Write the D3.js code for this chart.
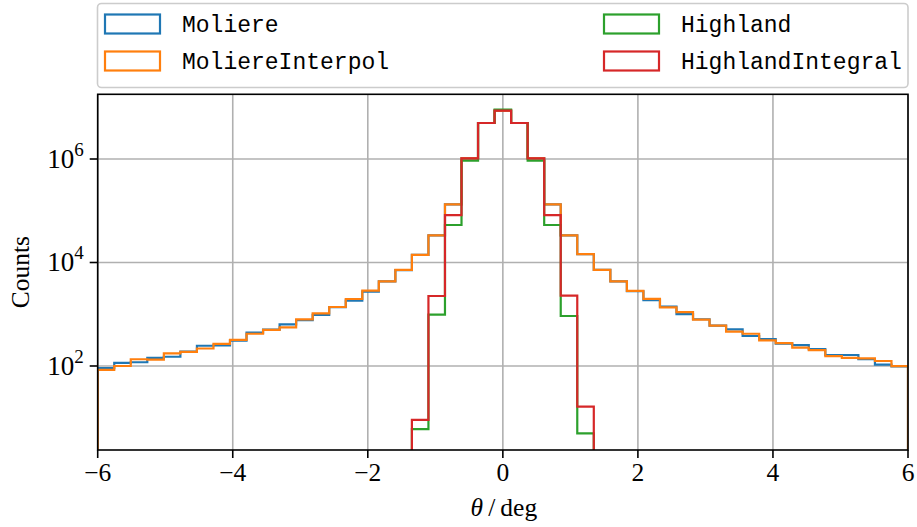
<!DOCTYPE html>
<html>
<head>
<meta charset="utf-8">
<script src="https://cdn.jsdelivr.net/npm/d3@7"></script>
<style>
  html, body { margin: 0; padding: 0; background: #ffffff; }
  svg { display: block; }
</style>
</head>
<body>
<svg id="chart" width="917" height="527"></svg>
<script>
// Histogram of scattering angle, 49 equal bins over [-6, 6] deg
const binRange = [-6, 6];
const binCount = 49;

// Counts per bin (left to right)
const moliere = [
  91, 115, 118, 143, 151, 190, 246, 250, 310, 440,
  505, 635, 768, 972, 1370, 1830, 2730, 4300, 7100, 14000,
  33500, 133000, 1030000, 4960000, 8600000, 4960000, 1030000, 133000, 33500, 14500,
  7200, 4300, 2780, 1870, 1400, 1005, 800, 601, 508, 380,
  330, 270, 253, 211, 163, 163, 136, 106, 98
];
const moliereInterpol = [
  84, 100, 135, 133, 175, 187, 218, 267, 320, 420,
  497, 560, 798, 1042, 1380, 1972, 2850, 4336, 7200, 14000,
  33500, 133000, 1030000, 4960000, 8600000, 4960000, 1030000, 133000, 33500, 14500,
  7200, 4300, 2830, 1985, 1361, 1097, 790, 601, 460, 420,
  314, 276, 226, 202, 155, 143, 140, 125, 99
];
const highland = [
  0, 0, 0, 0, 0, 0, 0, 0, 0, 0,
  0, 0, 0, 0, 0, 0, 0, 0, 0, 6.0,
  980, 53000, 930000, 4960000, 9000000, 4960000, 930000, 53000, 925, 5.0,
  0, 0, 0, 0, 0, 0, 0, 0, 0, 0,
  0, 0, 0, 0, 0, 0, 0, 0, 0
];
const highlandIntegral = [
  0, 0, 0, 0, 0, 0, 0, 0, 0, 0,
  0, 0, 0, 0, 0, 0, 0, 0, 0, 9.1,
  2250, 82000, 1030000, 4960000, 8600000, 4960000, 1030000, 82000, 2300, 16.4,
  0, 0, 0, 0, 0, 0, 0, 0, 0, 0,
  0, 0, 0, 0, 0, 0, 0, 0, 0
];

const seriesNames = ["Moliere", "MoliereInterpol", "Highland", "HighlandIntegral"];
const seriesValues = [moliere, moliereInterpol, highland, highlandIntegral];
const seriesColors = ["#1f77b4", "#ff7f0e", "#2ca02c", "#d62728"];

const xTicks = [-6, -4, -2, 0, 2, 4, 6];
const yTicks = [1e2, 1e4, 1e6];
const yTickExponents = ["2", "4", "6"];

// ---- layout ----
const svg = d3.select("#chart");
const plot = { left: 97.7, right: 908, top: 94.3, bottom: 450 };
const serif = "'Liberation Serif', 'DejaVu Serif', serif";
const mono = "'Liberation Mono', 'DejaVu Sans Mono', monospace";

const x = d3.scaleLinear().domain(binRange).range([plot.left, plot.right]);
const y = d3.scaleLog().domain([2.38, 1.78e7]).range([plot.bottom, plot.top]);

const edges = d3.range(binCount + 1).map(i => binRange[0] + (binRange[1] - binRange[0]) * i / binCount);

svg.append("defs").append("clipPath").attr("id", "plotClip")
  .append("rect")
  .attr("x", plot.left).attr("y", plot.top)
  .attr("width", plot.right - plot.left).attr("height", plot.bottom - plot.top);

// grid
const grid = svg.append("g").attr("stroke", "#b0b0b0").attr("stroke-width", 1.6);
grid.selectAll("line.gx").data(xTicks).join("line")
  .attr("x1", d => x(d)).attr("x2", d => x(d))
  .attr("y1", plot.top).attr("y2", plot.bottom);
grid.selectAll("line.gy").data(yTicks).join("line")
  .attr("x1", plot.left).attr("x2", plot.right)
  .attr("y1", d => y(d)).attr("y2", d => y(d));

// step histograms
const belowY = plot.bottom + 40;
const yv = v => (v > 0 ? y(v) : belowY);
function stepPath(vals) {
  const pts = [[x(edges[0]), belowY]];
  vals.forEach((v, i) => {
    pts.push([x(edges[i]), yv(v)]);
    pts.push([x(edges[i + 1]), yv(v)]);
  });
  pts.push([x(edges[binCount]), belowY]);
  return d3.line()(pts);
}
const lines = svg.append("g").attr("clip-path", "url(#plotClip)");
seriesValues.forEach((vals, k) => {
  lines.append("path")
    .attr("d", stepPath(vals))
    .attr("fill", "none")
    .attr("stroke", seriesColors[k])
    .attr("stroke-width", 2.2)
    .attr("stroke-linejoin", "miter");
});

// axes frame
svg.append("rect")
  .attr("x", plot.left).attr("y", plot.top)
  .attr("width", plot.right - plot.left).attr("height", plot.bottom - plot.top)
  .attr("fill", "none").attr("stroke", "#000").attr("stroke-width", 1.6);

// x axis ticks and labels
const xAxis = svg.append("g");
xAxis.selectAll("line").data(xTicks).join("line")
  .attr("x1", d => x(d)).attr("x2", d => x(d))
  .attr("y1", plot.bottom).attr("y2", plot.bottom + 8)
  .attr("stroke", "#000").attr("stroke-width", 1.6);
xAxis.selectAll("text").data(xTicks).join("text")
  .attr("x", d => x(d)).attr("y", plot.bottom + 31)
  .attr("text-anchor", "middle")
  .attr("font-family", serif).attr("font-size", 25.5)
  .text(d => (d < 0 ? "\u2212" + Math.abs(d) : String(d)));

// y axis ticks and labels
const yAxis = svg.append("g");
yAxis.selectAll("line").data(yTicks).join("line")
  .attr("x1", plot.left - 8).attr("x2", plot.left)
  .attr("y1", d => y(d)).attr("y2", d => y(d))
  .attr("stroke", "#000").attr("stroke-width", 1.6);
yTicks.forEach((t, i) => {
  const txt = yAxis.append("text")
    .attr("x", plot.left - 14).attr("y", y(t) + 9)
    .attr("text-anchor", "end")
    .attr("font-family", serif).attr("font-size", 27);
  txt.append("tspan").text("10");
  txt.append("tspan").attr("dy", -12).attr("font-size", 19).text(yTickExponents[i]);
});

// axis labels
const xl = svg.append("text")
  .attr("x", (plot.left + plot.right) / 2 + 1).attr("y", 516)
  .attr("text-anchor", "middle")
  .attr("font-family", serif).attr("font-size", 25.5);
xl.append("tspan").attr("font-style", "italic").text("\u03b8");
xl.append("tspan").text("\u2009/\u2009deg");

svg.append("text")
  .attr("transform", `translate(29,${(plot.top + plot.bottom) / 2}) rotate(-90)`)
  .attr("text-anchor", "middle")
  .attr("font-family", serif).attr("font-size", 25.5)
  .text("Counts");

// legend
const legend = svg.append("g");
legend.append("rect")
  .attr("x", 97.5).attr("y", 3.5).attr("width", 810.5).attr("height", 84)
  .attr("rx", 4).attr("ry", 4)
  .attr("fill", "#ffffff").attr("fill-opacity", 0.8)
  .attr("stroke", "#cccccc").attr("stroke-width", 1.6);
const legendCols = [105, 604];
const legendRows = [24, 61];
seriesNames.forEach((name, k) => {
  const cx = legendCols[Math.floor(k / 2)];
  const cy = legendRows[k % 2];
  legend.append("rect")
    .attr("x", cx).attr("y", cy - 9.5).attr("width", 55).attr("height", 19)
    .attr("fill", "none").attr("stroke", seriesColors[k]).attr("stroke-width", 2.2);
  legend.append("text")
    .attr("x", cx + 77).attr("y", cy + 8)
    .attr("font-family", mono).attr("font-size", 23)
    .text(name);
});
</script>
</body>
</html>
